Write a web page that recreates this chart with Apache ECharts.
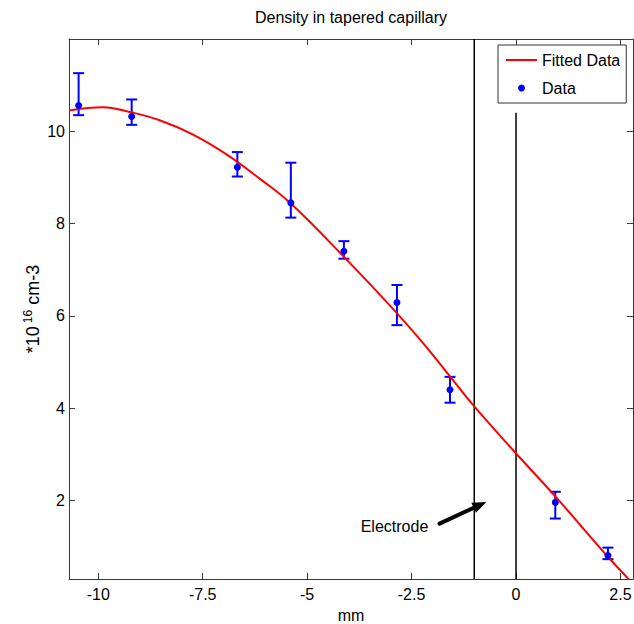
<!DOCTYPE html>
<html>
<head>
<meta charset="utf-8">
<script src="https://cdn.jsdelivr.net/npm/echarts@6/dist/echarts.min.js"></script>
<style>
  html, body { margin: 0; padding: 0; background: #fff; }
  #chart { width: 634px; height: 624px; }
</style>
</head>
<body>
<div id="chart"></div>
<script>
// Tick positions
const xTicks = [-10, -7.5, -5, -2.5, 0, 2.5];
const yTicks = [2, 4, 6, 8, 10];

// Measured density (×10^16 cm^-3) with error ranges
const posMm   = [-10.47, -9.20, -6.67, -5.39, -4.12, -2.85, -1.58, 0.94, 2.20];
const density = [10.56, 10.32, 9.22, 8.45, 7.40, 6.29, 4.40, 1.96, 0.81];
const errLow  = [10.35, 10.14, 9.02, 8.13, 7.24, 5.80, 4.12, 1.61, 0.73];
const errHigh = [11.26, 10.69, 9.55, 9.32, 7.62, 6.67, 4.68, 2.19, 0.98];

// Fitted profile
const fitMm      = [-10.7, -9.89, -9.25, -8.53, -7.73, -6.93, -6.13, -5.41, -4.13, -2.89, -2.13, -1.59, -1.02, -0.02, 0.94, 2.22, 2.66, 2.8];
const fitDensity = [10.45, 10.52, 10.42, 10.24, 9.93, 9.50, 8.97, 8.45, 7.29, 6.10, 5.31, 4.70, 4.06, 3.04, 2.09, 0.76, 0.33, 0.19];

// Electrode edges (mm) and how high each marker line reaches
const electrodeMm  = [-1, 0];
const electrodeTop = [12, 10.4];

// Annotation: arrow tail / head and label anchor, in data units
const arrowTail = [-1.83, 1.50];
const arrowHead = [-0.71, 1.97];
const labelAt   = [-2.10, 1.44];
const labelText = 'Electrode';

const X_MIN = -10.7, X_MAX = 2.8, Y_MIN = 0.3, Y_MAX = 12;

const FONT = '"Liberation Sans", Arial, Helvetica, sans-serif';
const AXIS_COLOR = '#3a3a3a';

const chart = echarts.init(document.getElementById('chart'), null, { renderer: 'svg' });

function boxAxis(extra) {
  return Object.assign({
    type: 'value',
    axisLine: { show: true, onZero: false, lineStyle: { color: AXIS_COLOR, width: 1 } },
    axisTick: { show: true, inside: true, length: 6, lineStyle: { color: AXIS_COLOR } },
    splitLine: { show: false },
    axisLabel: { show: false }
  }, extra);
}

const option = {
  animation: false,
  backgroundColor: '#fff',
  title: {
    text: 'Density in tapered capillary',
    left: 351,
    top: 9,
    padding: 0,
    textAlign: 'center',
    textStyle: { fontFamily: FONT, fontSize: 16, fontWeight: 'normal', color: '#000' }
  },
  legend: {
    orient: 'vertical',
    left: 498,
    top: 45,
    padding: [6, 6, 6, 7],
    itemWidth: 31,
    itemHeight: 7,
    itemGap: 10,
    borderColor: '#333',
    borderWidth: 1,
    borderRadius: 0,
    backgroundColor: '#fff',
    textStyle: { fontFamily: FONT, fontSize: 16, color: '#000', lineHeight: 18 },
    data: [
      { name: 'Fitted Data', itemStyle: { opacity: 0 } },
      { name: 'Data', icon: 'circle' }
    ]
  },
  grid: { left: 69, right: 1, top: 39, bottom: 45, outerBoundsMode: 'none', containLabel: false },
  xAxis: [
    boxAxis({
      position: 'bottom',
      min: X_MIN, max: X_MAX,
      name: 'mm',
      nameLocation: 'middle',
      nameGap: 28,
      nameMoveOverlap: false,
      nameTextStyle: { fontFamily: FONT, fontSize: 16, color: '#000' },
      axisTick: { show: true, inside: true, length: 6, customValues: xTicks, lineStyle: { color: AXIS_COLOR } },
      axisLabel: { show: true, margin: 7, customValues: xTicks, fontFamily: FONT, fontSize: 16, color: '#000' }
    }),
    boxAxis({
      position: 'top',
      min: X_MIN, max: X_MAX,
      axisTick: { show: true, inside: true, length: 6, customValues: xTicks, lineStyle: { color: AXIS_COLOR } }
    })
  ],
  yAxis: [
    boxAxis({
      position: 'left',
      min: Y_MIN, max: Y_MAX,
      name: '*10{sup|16} cm-3',
      nameLocation: 'middle',
      nameRotate: 90,
      nameGap: 26,
      nameMoveOverlap: false,
      nameTextStyle: {
        fontFamily: FONT, fontSize: 18, color: '#000',
        rich: {
          sup: { fontFamily: FONT, fontSize: 12, color: '#000', padding: [0, 0, 9, 3] }
        }
      },
      axisTick: { show: true, inside: true, length: 6, customValues: yTicks, lineStyle: { color: AXIS_COLOR } },
      axisLabel: { show: true, margin: 4, customValues: yTicks, fontFamily: FONT, fontSize: 16, color: '#000' }
    }),
    boxAxis({
      position: 'right',
      min: Y_MIN, max: Y_MAX,
      axisTick: { show: true, inside: true, length: 6, customValues: yTicks, lineStyle: { color: AXIS_COLOR } }
    })
  ],
  series: [
    {
      // vertical lines marking the electrode edges
      type: 'custom',
      name: 'electrode',
      silent: true,
      data: electrodeMm.map((x, i) => [x, Y_MIN, electrodeTop[i]]),
      encode: { x: 0, y: [1, 2] },
      renderItem(params, api) {
        const a = api.coord([api.value(0), api.value(1)]);
        const b = api.coord([api.value(0), api.value(2)]);
        return {
          type: 'line',
          shape: { x1: a[0], y1: a[1], x2: b[0], y2: b[1] },
          style: { stroke: '#000', lineWidth: 1.5 }
        };
      },
      z: 1
    },
    {
      type: 'line',
      name: 'Fitted Data',
      data: fitMm.map((x, i) => [x, fitDensity[i]]),
      symbol: 'none',
      smooth: 0.4,
      clip: true,
      lineStyle: { color: '#ff0000', width: 2 },
      itemStyle: { color: '#ff0000' },
      z: 3
    },
    {
      // error bars
      type: 'custom',
      name: 'errors',
      silent: true,
      data: posMm.map((x, i) => [x, errLow[i], errHigh[i]]),
      encode: { x: 0, y: [1, 2] },
      renderItem(params, api) {
        const x = api.value(0);
        const lo = api.coord([x, api.value(1)]);
        const hi = api.coord([x, api.value(2)]);
        const hw = 5.5;
        const style = { stroke: '#0000ff', lineWidth: 2, fill: null };
        return {
          type: 'group',
          children: [
            { type: 'line', shape: { x1: lo[0], y1: lo[1], x2: hi[0], y2: hi[1] }, style },
            { type: 'line', shape: { x1: lo[0] - hw, y1: lo[1], x2: lo[0] + hw, y2: lo[1] }, style },
            { type: 'line', shape: { x1: hi[0] - hw, y1: hi[1], x2: hi[0] + hw, y2: hi[1] }, style }
          ]
        };
      },
      z: 2
    },
    {
      type: 'scatter',
      name: 'Data',
      data: posMm.map((x, i) => [x, density[i]]),
      symbol: 'circle',
      symbolSize: 7,
      itemStyle: { color: '#0000ff', opacity: 1 },
      z: 4
    },
    {
      // "Electrode" label with arrow
      type: 'custom',
      name: 'annotation',
      silent: true,
      data: [[arrowTail[0], arrowTail[1], arrowHead[0], arrowHead[1], labelAt[0], labelAt[1]]],
      encode: { x: [0, 2], y: [1, 3] },
      renderItem(params, api) {
        const t = api.coord([api.value(0), api.value(1)]);
        const h = api.coord([api.value(2), api.value(3)]);
        const l = api.coord([api.value(4), api.value(5)]);
        const ang = Math.atan2(h[1] - t[1], h[0] - t[0]);
        const len = 14, half = 5.5;
        const bx = h[0] - len * Math.cos(ang), by = h[1] - len * Math.sin(ang);
        const nx = -Math.sin(ang), ny = Math.cos(ang);
        return {
          type: 'group',
          children: [
            {
              type: 'line',
              shape: { x1: t[0], y1: t[1], x2: bx + 2 * Math.cos(ang), y2: by + 2 * Math.sin(ang) },
              style: { stroke: '#000', lineWidth: 4, lineCap: 'round' }
            },
            {
              type: 'polygon',
              shape: { points: [[h[0], h[1]], [bx + nx * half, by + ny * half], [bx - nx * half, by - ny * half]] },
              style: { fill: '#000' }
            },
            {
              type: 'text',
              x: l[0], y: l[1],
              style: {
                text: labelText, fill: '#000',
                fontFamily: FONT, fontSize: 16,
                align: 'right', verticalAlign: 'middle'
              }
            }
          ]
        };
      },
      z: 5
    }
  ]
};

chart.setOption(option);
</script>
</body>
</html>
